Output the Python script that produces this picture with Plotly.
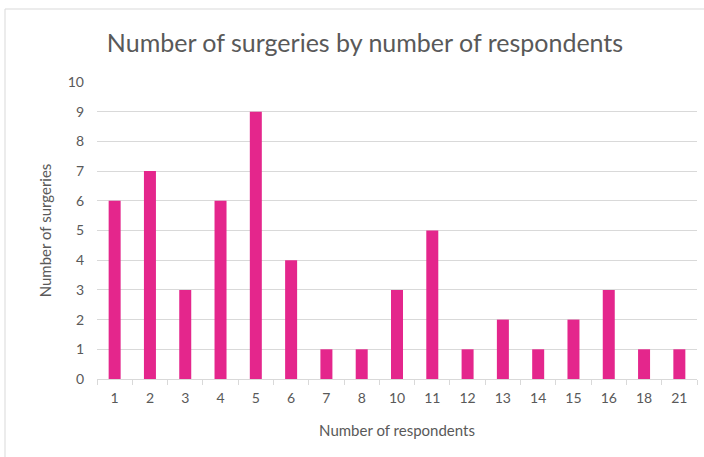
import plotly.graph_objects as go

# Survey data: how many surgeries had a given number of respondents
respondents = ["1", "2", "3", "4", "5", "6", "7", "8", "10", "11",
               "12", "13", "14", "15", "16", "18", "21"]
surgeries = [6, 7, 3, 6, 9, 4, 1, 1, 3, 5, 1, 2, 1, 2, 3, 1, 1]
y_ticks = list(range(0, 11))

FONT = "Lato, 'Open Sans', sans-serif"
GREY_TEXT = "#595959"
GRID = "#d9d9d9"

fig = go.Figure(
    go.Bar(
        x=respondents,
        y=surgeries,
        marker=dict(color="#E4268C", line=dict(width=0)),
        hoverinfo="x+y",
    )
)

W, H = 704, 457
ml, mr, mt, mb = 97, 7, 82, 78
pw, ph = W - ml - mr, H - mt - mb

# pixel -> paper helpers for the outer frame
def px_x(p):
    return (p - ml) / pw

def px_y(p):
    return (H - mb - p) / ph

fig.update_layout(
    width=W,
    height=H,
    margin=dict(l=ml, r=mr, t=mt, b=mb),
    paper_bgcolor="white",
    plot_bgcolor="white",
    bargap=0.66,
    showlegend=False,
    font=dict(family=FONT, color=GREY_TEXT, size=14),
    title=dict(
        text="Number of surgeries by number of respondents",
        x=365 / W,
        xanchor="center",
        y=1 - 43 / H,
        yanchor="middle",
        font=dict(family=FONT, size=25, color=GREY_TEXT),
    ),
    xaxis=dict(
        type="category",
        showgrid=False,
        showline=True,
        linecolor=GRID,
        linewidth=1,
        ticks="outside",
        tickson="boundaries",
        ticklen=5,
        tickcolor=GRID,
        ticklabelstandoff=6,
        tickfont=dict(size=14, color=GREY_TEXT),
        title=dict(text="Number of respondents", standoff=20,
                   font=dict(size=15, color=GREY_TEXT)),
    ),
    yaxis=dict(
        range=[0, 10],
        tickvals=y_ticks,
        showgrid=True,
        gridcolor=GRID,
        gridwidth=1,
        zeroline=False,
        showline=False,
        ticks="",
        ticklabelstandoff=12,
        tickfont=dict(size=14, color=GREY_TEXT),
        title=dict(text="Number of surgeries", standoff=12,
                   font=dict(size=15, color=GREY_TEXT)),
    ),
    shapes=[
        dict(
            type="rect",
            xref="paper", yref="paper",
            x0=px_x(5), x1=px_x(W + 5),
            y0=px_y(H + 5),
            y1=px_y(9),
            line=dict(color="#d9d9d9", width=1),
            fillcolor="rgba(0,0,0,0)",
            layer="below",
        )
    ],
)

fig.write_html("out.html")
